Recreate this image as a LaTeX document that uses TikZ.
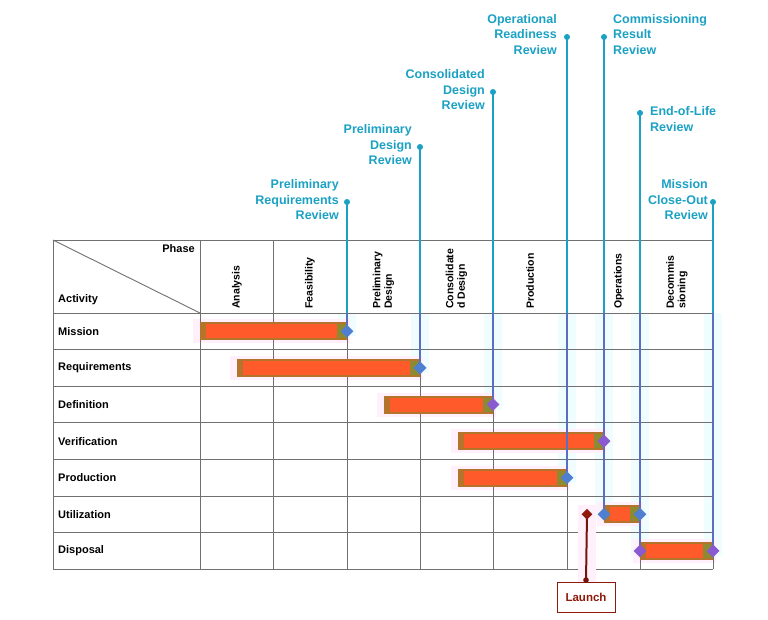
\documentclass[tikz,border=0pt]{standalone}
\usepackage{fontspec}
\setmainfont{Liberation Sans}
\usetikzlibrary{shapes.geometric}
\definecolor{teal1}{HTML}{1BA1C4}
\definecolor{mline}{HTML}{5A6EC6}
\definecolor{barfill}{HTML}{FF5A2A}
\definecolor{barrim}{HTML}{B4742C}
\definecolor{barend}{HTML}{8E8A32}
\definecolor{dblue}{HTML}{4F7FD0}
\definecolor{dpurple}{HTML}{8A5AD0}
\definecolor{lred}{HTML}{8E1A0C}
\definecolor{gridc}{HTML}{707070}
\definecolor{pinkglow}{HTML}{FFF0FB}
\definecolor{cyanglow}{HTML}{F0FDFF}
\tikzset{
  msdot/.style={circle, fill=teal1, inner sep=0pt, minimum size=6pt},
  mslabel/.style={text=teal1, font=\bfseries\fontsize{12.5}{15.5}\selectfont, inner sep=0pt},
  dia/.style={diamond, inner sep=0pt, minimum size=13pt},
  hdr/.style={rotate=90, anchor=west, align=left, font=\bfseries\fontsize{10.5}{11.5}\selectfont, inner sep=0pt},
  rowlab/.style={anchor=west, font=\bfseries\fontsize{11}{12}\selectfont, inner sep=0pt},
  gridline/.style={draw=gridc, line width=0.9pt},
  tealline/.style={draw=teal1, line width=2.3pt},
  blueline/.style={draw=mline, line width=2.3pt},
}
\begin{document}
\begin{tikzpicture}[x=1pt,y=-1pt]
\path[use as bounding box, fill=white] (0,0) rectangle (768,619);

% glow strips along milestone lines
\foreach \x/\yb in {347/336, 420/373, 493/410, 567/483, 604/520, 640/556, 713/556}
  \fill[cyanglow] (\x-9,313) rectangle (\x+9,\yb);

% bar glow
\foreach \xa/\xb/\yc in {200/347/331.3, 237/420/367.9, 384/493/404.5, 458/604/441.1, 458/567/477.7, 604/640/514.3, 640/713/550.9} {
  \fill[pinkglow] (\xa-7,\yc-12) rectangle (\xb+3,\yc+12);
}

% grid
\foreach \y in {240,313,349.6,386.2,422.8,459.4,496,532.6,569}
  \draw[gridline] (53,\y) -- (713,\y);
\foreach \x in {53,200,273,347,420,493,567,640,713}
  \draw[gridline] (\x,240) -- (\x,569);
\draw[gridline] (53,240) -- (200,313);

% bars
\foreach \xa/\xb/\yc in {200/347/331.3, 237/420/367.9, 384/493/404.5, 458/604/441.1, 458/567/477.7, 604/640/514.3, 640/713/550.9} {
  \fill[barrim] (\xa,\yc-9) rectangle (\xb,\yc+9);
  \fill[barfill] (\xa+6,\yc-7) rectangle (\xb-10,\yc+7);
  \fill[barend] (\xb-10,\yc-7) rectangle (\xb,\yc+7);
}

% header texts
\node[anchor=east, font=\bfseries\fontsize{11}{12}\selectfont, inner sep=0pt] (phase) at (195,249) {Phase};
\node[rowlab] (activity) at (58,300) {Activity};
\node[hdr] (h1) at (237,309) {Analysis};
\node[hdr] (h2) at (310,309) {Feasibility};
\node[hdr] (h3) at (383.5,309) {Preliminary\\Design};
\node[hdr] (h4) at (456.5,309) {Consolidate\\d Design};
\node[hdr] (h5) at (530,309) {Production};
\node[hdr] (h6) at (619,309) {Operations};
\node[hdr] (h7) at (677,309) {Decommis\\sioning};

% row labels
\node[rowlab] (r1) at (58,331.3) {Mission};
\node[rowlab] (r2) at (58,367.9) {Requirements};
\node[rowlab] (r3) at (58,404.5) {Definition};
\node[rowlab] (r4) at (58,441.1) {Verification};
\node[rowlab] (r5) at (58,477.7) {Production};
\node[rowlab] (r6) at (58,514.3) {Utilization};
\node[rowlab] (r7) at (58,550.9) {Disposal};

% milestone positions
\coordinate (prrT) at (347,202); \coordinate (prrM) at (347,313); \coordinate (prrB) at (347,331.3);
\coordinate (pdrT) at (420,147); \coordinate (pdrM) at (420,313); \coordinate (pdrB) at (420,367.9);
\coordinate (cdrT) at (493,92);  \coordinate (cdrM) at (493,313); \coordinate (cdrB) at (493,404.5);
\coordinate (orrT) at (567,37);  \coordinate (orrM) at (567,313); \coordinate (orrB) at (567,477.7);
\coordinate (crrT) at (604,37);  \coordinate (crrM) at (604,313); \coordinate (crrB) at (604,514.3);
\coordinate (eolT) at (640,113); \coordinate (eolM) at (640,313); \coordinate (eolB) at (640,550.9);
\coordinate (mcrT) at (713,202); \coordinate (mcrM) at (713,313); \coordinate (mcrB) at (713,550.9);

\foreach \m in {prr,pdr,cdr,orr,crr,eol,mcr} {
  \draw[tealline] (\m T) -- (\m M);
  \draw[blueline] (\m M) -- (\m B);
  \node[msdot] at (\m T) {};
}

% diamonds
\node[dia, fill=dblue] (d1) at (prrB) {};
\node[dia, fill=dblue] (d2) at (pdrB) {};
\node[dia, fill=dpurple] (d3) at (cdrB) {};
\node[dia, fill=dpurple] (d4) at (604,441.1) {};
\node[dia, fill=dblue] (d5) at (orrB) {};
\node[dia, fill=dblue] (d6) at (crrB) {};
\node[dia, fill=dblue] (d7) at (640,514.3) {};
\node[dia, fill=dpurple] (d8) at (eolB) {};
\node[dia, fill=dpurple] (d9) at (mcrB) {};

% milestone labels
\node[mslabel, anchor=east, align=right] (lprr) at (339,200) {Preliminary\\Requirements\\Review};
\node[mslabel, anchor=east, align=right] (lpdr) at (412,145) {Preliminary\\Design\\Review};
\node[mslabel, anchor=east, align=right] (lcdr) at (485,90) {Consolidated\\Design\\Review};
\node[mslabel, anchor=east, align=right] (lorr) at (557,34.5) {Operational\\Readiness\\Review};
\node[mslabel, anchor=west, align=left] (lcrr) at (613,34.5) {Commissioning\\Result\\Review};
\node[mslabel, anchor=west, align=left] (leol) at (650,119) {End-of-Life\\Review};
\node[mslabel, anchor=east, align=right] (lmcr) at (708,200) {Mission\\Close-Out\\Review};

% launch
\fill[pinkglow] (578,505) rectangle (596,582);
\node[draw=lred, line width=0.9pt, fill=white, minimum width=58pt, minimum height=30pt, inner sep=0pt,
      text=lred, font=\bfseries\fontsize{11.5}{13}\selectfont] (launch) at (586,597) {Launch};
\coordinate (launchT) at (587,514.3);
\draw[draw=lred!80!black, line width=2pt] (launchT) -- (launch.north);
\fill[lred!80!black] (launch.north) ++(0,-1.5) circle (2.8pt);
\node[dia, fill=lred, minimum size=11pt] (ld) at (launchT) {};
\end{tikzpicture}
\end{document}
